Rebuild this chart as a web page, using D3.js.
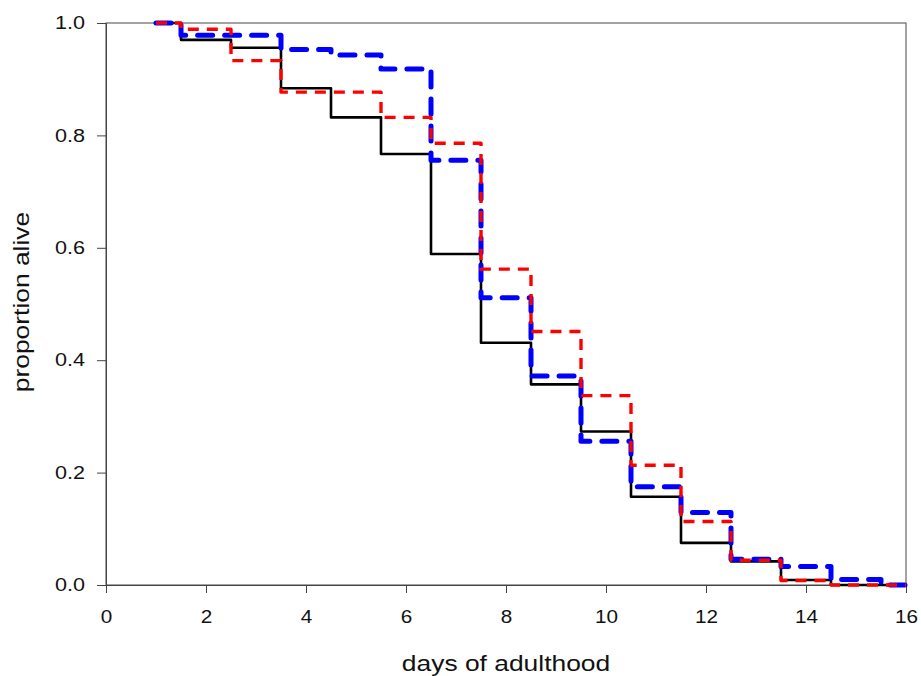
<!DOCTYPE html>
<html>
<head>
<meta charset="utf-8">
<script src="https://cdn.jsdelivr.net/npm/d3@7"></script>
<style>
  body { margin: 0; background: #fff; }
  text { font-family: "Liberation Sans", Arial, sans-serif; }
</style>
</head>
<body>
<svg id="chart" width="921" height="676"></svg>
<script>
// step points: value holds from days[i] to days[i+1]
const days = [1, 1.5, 2.5, 3.5, 4.5, 5.5, 6.5, 7.5, 8.5, 9.5, 10.5, 11.5, 12.5, 13.5, 14.5, 15.5, 16]

const blackVals = [1.0, 0.97, 0.956, 0.884, 0.832, 0.767, 0.589, 0.431, 0.357, 0.273, 0.157, 0.075, 0.042, 0.009, 0, 0]
const blueVals  = [1.0, 0.978, 0.978, 0.953, 0.943, 0.918, 0.756, 0.511, 0.372, 0.256, 0.175, 0.129, 0.046, 0.033, 0.01, 0]
const redVals   = [1.0, 0.989, 0.933, 0.877, 0.877, 0.832, 0.786, 0.562, 0.451, 0.337, 0.213, 0.113, 0.044, 0.008, 0, 0]

const xTicks = [0, 2, 4, 6, 8, 10, 12, 14, 16]
const yTicks = [0, 0.2, 0.4, 0.6, 0.8, 1.0]

const svg = d3.select('#chart')
const mLeft = 106, mRight = 906, mTop = 23, mBottom = 585
const stretch = 1.15  // reference glyphs are a bit wider than Liberation Sans

const x = d3.scaleLinear().domain([0, 16]).range([mLeft, mRight])
const y = d3.scaleLinear().domain([0, 1]).range([mBottom, mTop])

// frame
svg.append('rect')
    .attr('x', mLeft)
    .attr('y', mTop)
    .attr('width', mRight - mLeft)
    .attr('height', mBottom - mTop)
    .attr('fill', 'none')
    .attr('stroke', '#666')
    .attr('stroke-width', 1.2)

const xAxis = svg.append('g')
    .attr('transform', `translate(0 ${mBottom})`)
    .call(d3.axisBottom(x).tickValues(xTicks).tickSize(8).tickPadding(17).tickFormat(d3.format('d')))
xAxis.select('.domain').attr('stroke', '#444')
xAxis.selectAll('.tick line').attr('stroke', '#444')
xAxis.selectAll('text')
    .attr('font-size', 18)
    .attr('fill', '#111')
    .attr('transform', `scale(${stretch},1)`)

const yAxis = svg.append('g')
    .attr('transform', `translate(${mLeft} 0)`)
    .call(d3.axisLeft(y).tickValues(yTicks).tickSize(9).tickFormat(d3.format('.1f')))
yAxis.select('.domain').attr('stroke', '#444')
yAxis.selectAll('.tick line').attr('stroke', '#444')
yAxis.selectAll('text')
    .attr('font-size', 18)
    .attr('fill', '#111')
    .attr('x', -21 / 1.2)
    .attr('transform', 'scale(1.2,1)')

svg.append('text')
    .text('days of adulthood')
    .attr('transform', `translate(${(mLeft + mRight) / 2} 671) scale(1.2,1)`)
    .attr('text-anchor', 'middle')
    .attr('font-size', 22)
    .attr('fill', '#111')

svg.append('text')
    .text('proportion alive')
    .attr('transform', `translate(29 302) rotate(-90) scale(1.2,1)`)
    .attr('text-anchor', 'middle')
    .attr('font-size', 22)
    .attr('fill', '#111')

function stepData(vals) {
    const pts = vals.map((v, i) => [days[i], v])
    pts.push([days[vals.length], vals[vals.length - 1]])
    return pts
}

const line = d3.line()
    .x(d => x(d[0]))
    .y(d => y(d[1]))
    .curve(d3.curveStepAfter)

const series = [
    {vals: blackVals, color: '#000', width: 2.6, dash: null, cap: 'butt'},
    {vals: blueVals, color: '#0000ff', width: 5, dash: '15,12', cap: 'round'},
    {vals: redVals, color: '#ff0000', width: 3.4, dash: '11,8', cap: 'butt'},
]

series.forEach(s => {
    svg.append('path')
        .datum(stepData(s.vals))
        .attr('d', line)
        .attr('fill', 'none')
        .attr('stroke', s.color)
        .attr('stroke-width', s.width)
        .attr('stroke-dasharray', s.dash)
        .attr('stroke-linecap', s.cap)
        .attr('stroke-linejoin', 'round')
})
</script>
</body>
</html>
